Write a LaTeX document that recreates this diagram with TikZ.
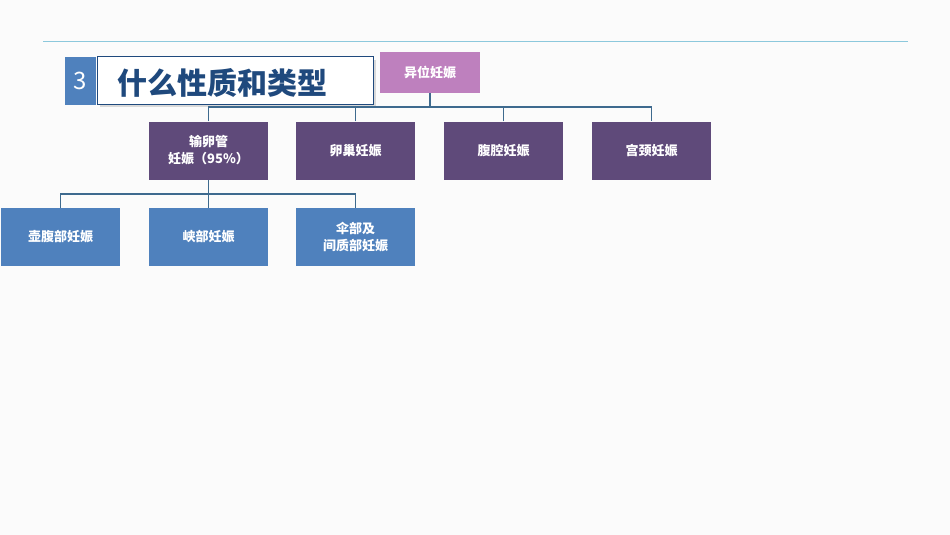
\documentclass[tikz,border=0pt]{standalone}
\usepackage{fontspec}
\setmainfont{Noto Sans CJK SC}
\begin{document}
\begin{tikzpicture}[x=1pt,y=-1pt,
  box/.style={draw=none,minimum width=119pt,minimum height=58pt,text=white,font=\fontsize{13}{17}\selectfont\bfseries,align=center,inner sep=0pt},
  purple/.style={box,fill=purpleC},
  blueb/.style={box,fill=blueC},
  conn/.style={draw=lineC,line width=1.6pt}]
\definecolor{purpleC}{HTML}{5F4A7A}
\definecolor{blueC}{HTML}{4F81BD}
\definecolor{pinkC}{HTML}{BE80BE}
\definecolor{lineC}{HTML}{3E6A8E}
\definecolor{titleC}{HTML}{1F497D}
\fill[white!97!gray] (0,0) rectangle (950,535);
\useasboundingbox (0,0) rectangle (950,535);
\draw[color={rgb,255:red,140;green,200;blue,220},line width=0.8pt] (43,41) -- (908,41);
% title
\node[fill=blueC,minimum width=31pt,minimum height=48pt,inner sep=0pt,text=white,font=\fontsize{24}{24}\selectfont] (num) at (80.5,81) {3};
\fill[black!15] (100,60) rectangle (376,107);
\node[fill=white,draw=titleC,line width=1pt,minimum width=276pt,minimum height=47pt,inner sep=0pt] (tbox) at (235,80.5) {};
\node[text=titleC,font=\fontsize{30}{30}\selectfont\bfseries,anchor=west] (title) at (114,83) {什么性质和类型};
% root
\node[box,fill=pinkC,minimum width=100pt,minimum height=41pt] (root) at (430,72.5) {异位妊娠};
\node[purple] (a1) at (208.5,150.5) {输卵管\\妊娠（95\%）};
\node[purple] (a2) at (355.5,150.5) {卵巢妊娠};
\node[purple] (a3) at (503.5,150.5) {腹腔妊娠};
\node[purple] (a4) at (651.5,150.5) {宫颈妊娠};
\node[blueb] (b1) at (60.5,237) {壶腹部妊娠};
\node[blueb] (b2) at (208.5,237) {峡部妊娠};
\node[blueb] (b3) at (355.5,237) {伞部及\\间质部妊娠};
\coordinate (h1) at (430,107);
\coordinate (h2) at (208.5,194);
\draw[conn] (root.south) -- (h1);
\draw[conn] (a1.north) |- (h1) -| (a4.north);
\draw[conn] (a2.north) -- (a2.north|-h1);
\draw[conn] (a3.north) -- (a3.north|-h1);
\draw[conn] (a1.south) -- (h2);
\draw[conn] (b1.north) |- (h2) -| (b3.north);
\draw[conn] (b2.north) -- (h2);
\end{tikzpicture}
\end{document}
